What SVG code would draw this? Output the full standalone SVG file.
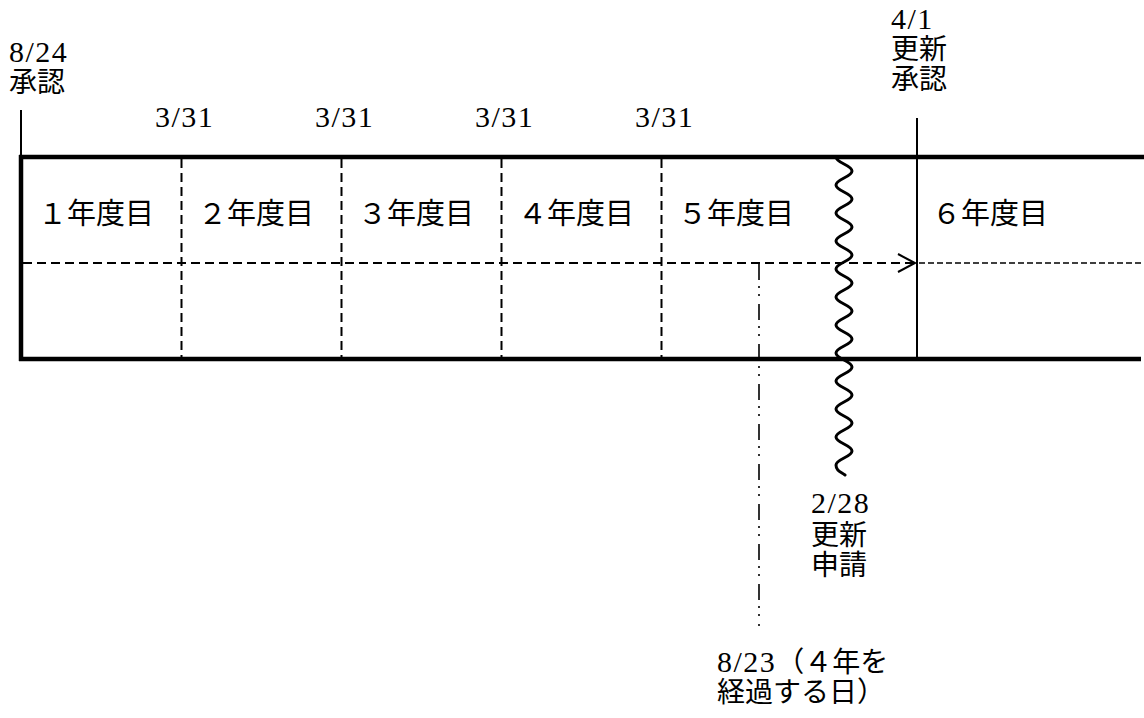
<svg xmlns="http://www.w3.org/2000/svg" width="1144" height="718" viewBox="0 0 1144 718">
<style>
.t{font-family:"Liberation Serif","Noto Sans CJK JP",serif;font-size:28px;fill:#000}
.d{font-size:30px;letter-spacing:1.5px}
.yr{font-family:"Liberation Serif","Noto Sans CJK JP",serif;font-size:29px;fill:#000}
.thick{stroke:#000;stroke-width:4.5;fill:none}
.thin{stroke:#000;stroke-width:2;fill:none}
.dash{stroke:#000;stroke-width:2;stroke-dasharray:9 5;fill:none}
.fine{stroke:#000;stroke-width:1.3;stroke-dasharray:6 3;fill:none}
.chain{stroke:#000;stroke-width:1.6;stroke-dasharray:16 6 2 6 2 8;fill:none}
.wave{stroke:#000;stroke-width:3;fill:none;stroke-linecap:round}
</style>
<rect width="1144" height="718" fill="#fff"/>
<g id="frame">
<line class="thick" x1="19" y1="157" x2="1144" y2="157"/>
<line class="thick" x1="19" y1="359" x2="1141" y2="359"/>
<line class="thick" x1="21" y1="155" x2="21" y2="361"/>
</g>
<g id="year-dividers">
<line class="dash" x1="181.5" y1="159" x2="181.5" y2="357"/>
<line class="dash" x1="341.5" y1="159" x2="341.5" y2="357"/>
<line class="dash" x1="501.5" y1="159" x2="501.5" y2="357"/>
<line class="dash" x1="661.5" y1="159" x2="661.5" y2="357"/>
</g>
<g id="connectors">
<line class="thin" x1="21" y1="110" x2="21" y2="157"/>
<line class="thin" x1="917" y1="118" x2="917" y2="359"/>
<line class="dash" x1="23" y1="263" x2="913" y2="263"/>
<polyline class="thin" points="898,254 915,263 898,272"/>
<line class="fine" x1="919" y1="263" x2="1144" y2="263"/>
<line class="chain" x1="759" y1="264" x2="759" y2="626"/>
<path class="wave" d="M836,157 C836,163 852,165 852,171 S836,179 836,185 S852,193 852,199 S836,207 836,213 S852,221 852,227 S836,235 836,241 S852,249 852,255 S836,263 836,269 S852,277 852,283 S836,291 836,297 S852,305 852,311 S836,319 836,325 S852,333 852,339 S836,347 836,353 S852,361 852,367 S836,375 836,381 S852,389 852,395 S836,403 836,409 S852,417 852,423 S836,431 836,437 S852,445 852,451 S836,459 836,465 S841,472 845,475"/>
</g>
<g id="node-approval">
<text class="t d" x="9" y="62">8/24</text>
<text class="t" x="9" y="92">承認</text>
</g>
<g id="node-fy-ends">
<text class="t d" x="155" y="127">3/31</text>
<text class="t d" x="315" y="127">3/31</text>
<text class="t d" x="475" y="127">3/31</text>
<text class="t d" x="635" y="127">3/31</text>
</g>
<g id="node-renewal-approval">
<text class="t d" x="891" y="29">4/1</text>
<text class="t" x="891" y="59">更新</text>
<text class="t" x="891" y="89">承認</text>
</g>
<g id="node-years">
<text class="yr" x="38" y="224">１年度目</text>
<text class="yr" x="198" y="224">２年度目</text>
<text class="yr" x="358" y="224">３年度目</text>
<text class="yr" x="518" y="224">４年度目</text>
<text class="yr" x="678" y="224">５年度目</text>
<text class="yr" x="932" y="224">６年度目</text>
</g>
<g id="node-renewal-application">
<text class="t d" x="811" y="513">2/28</text>
<text class="t" x="811" y="545">更新</text>
<text class="t" x="811" y="575">申請</text>
</g>
<g id="node-four-years">
<text class="t" x="717" y="672"><tspan class="d">8/23</tspan>（４年を</text>
<text class="t" x="717" y="702">経過する日）</text>
</g>
</svg>
